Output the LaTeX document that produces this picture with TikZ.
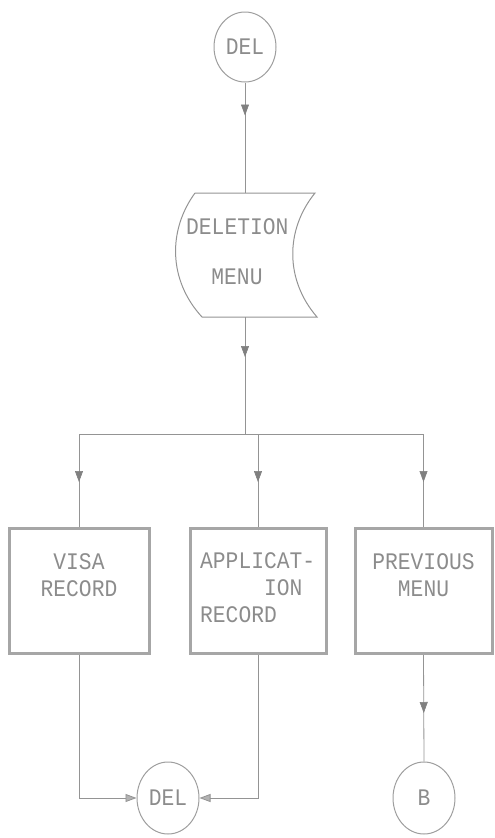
\documentclass[tikz,border=0pt]{standalone}
\usepackage{fontspec}
\usepackage{graphicx}
\newfontfamily\dotfont{Liberation Mono}
\usetikzlibrary{shapes.geometric,arrows.meta,decorations.markings}
\newcommand\tall[1]{\scalebox{1.12}[1.25]{#1}}
\begin{document}
\begin{tikzpicture}[x=1pt,y=1pt,
  ink/.style={draw=black!42,line width=0.8pt},
  circ/.style={ellipse,draw=black!38,line width=1pt,minimum width=62pt,minimum height=70pt,inner sep=0pt,
    text=black!45,font=\fontsize{19}{27}\selectfont\dotfont},
  boxnode/.style={rectangle,draw=black!35,line width=3pt,minimum height=125pt,inner sep=0pt},
  txt/.style={text=black!45,font=\fontsize{19}{27}\selectfont\dotfont,inner sep=0pt},
  tipstyle/.style={-{Triangle[width=8pt,length=11pt,fill=black!30]}},
  midarrow/.style={postaction={decorate},decoration={markings,
    mark=at position #1 with {\arrow[draw=black!50,fill=black!30,line width=0.6pt]{Triangle[width=8pt,length=11pt]}}}}
]
\useasboundingbox (0,0) rectangle (495,-838);

% top connector circle
\node[circ] (del1) at (245,-47) {\tall{DEL}};

% deletion menu (display shape)
\coordinate (mtop) at (245,-193);
\coordinate (mbot) at (245,-317);
\draw[ink,line width=1pt] (195,-193) -- (315,-193)
  .. controls (285,-230) and (285,-280) .. (317,-317)
  -- (202,-317)
  .. controls (168,-280) and (168,-230) .. (195,-193);
\node[txt,anchor=west] (mt1) at (186,-227) {\tall{DELETION}};
\node[txt] (mt2) at (237,-277) {\tall{MENU}};

% junction
\coordinate (j) at (245,-434);
\coordinate (jl) at (79,-434);
\coordinate (jm) at (258,-434);
\coordinate (jr) at (423.5,-434);

% boxes
\node[boxnode,minimum width=140pt] (b1) at (79,-591) {};
\node[boxnode,minimum width=136pt] (b2) at (258,-591) {};
\node[boxnode,minimum width=137pt] (b3) at (423.5,-591) {};
\node[txt,align=center] (t1) at (79,-575) {\tall{VISA}\\\tall{RECORD}};
\node[txt,align=left,anchor=west] (t2) at (200,-588) {\tall{APPLICAT-}\\\tall{\phantom{APPLI}ION}\\\tall{RECORD}};
\node[txt,align=center] (t3) at (423.5,-575) {\tall{PREVIOUS}\\\tall{MENU}};

% bottom circles
\node[circ,minimum height=72pt] (del2) at (168,-798) {\tall{DEL}};
\node[circ,minimum height=72pt] (bb) at (424,-798) {\tall{B}};

% connectors
\draw[ink,midarrow=33pt] (del1.south) -- (mtop);
\draw[ink,midarrow=40pt] (mbot) -- (j);
\draw[ink] (jl) -- (jr);
\draw[ink,midarrow=48pt] (jl) -- (b1.north);
\draw[ink,midarrow=48pt] (jm) -- (b2.north);
\draw[ink,midarrow=48pt] (jr) -- (b3.north);
\draw[ink,tipstyle] (b1.south) |- (del2.west);
\draw[ink,tipstyle] (b2.south) |- (del2.east);
\draw[ink,midarrow=58pt] (b3.south) -- (bb.north);
\end{tikzpicture}
\end{document}
